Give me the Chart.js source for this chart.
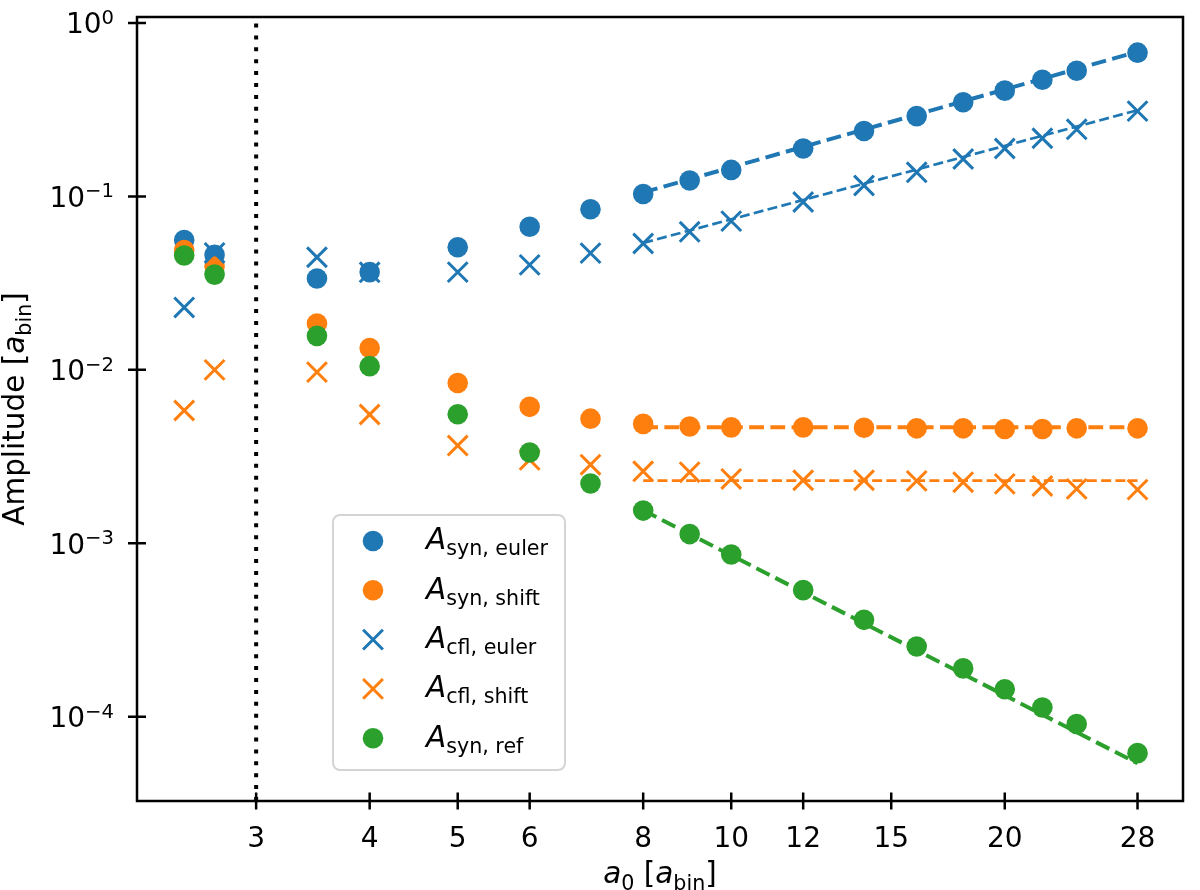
<!DOCTYPE html>
<html>
<head>
<meta charset="utf-8">
<script src="https://cdn.jsdelivr.net/npm/chart.js@4.4.1/dist/chart.umd.min.js"></script>
<style>
html,body{margin:0;padding:0;background:#fff;}
#wrap{position:relative;width:1200px;height:890px;}
</style>
</head>
<body>
<div id="wrap"><canvas id="c"></canvas></div>
<script>
// ---- data ----
const a0 = [2.5, 2.7, 3.5, 4, 5, 6, 7, 8, 9, 10, 12, 14, 16, 18, 20, 22, 24, 28];
const synEuler = [0.0561, 0.0460, 0.0336, 0.0366, 0.0509, 0.0668, 0.0843, 0.1033, 0.1234, 0.1421, 0.1888, 0.2383, 0.2903, 0.3490, 0.4071, 0.4707, 0.5297, 0.6739];
const synShift = [0.0491, 0.0394, 0.0185, 0.01335, 0.00839, 0.00612, 0.00523, 0.00488, 0.00471, 0.00466, 0.00466, 0.00464, 0.00460, 0.00460, 0.00456, 0.00456, 0.00460, 0.00460];
const cflEuler = [0.0229, 0.0472, 0.0446, 0.0365, 0.0366, 0.0403, 0.0471, 0.0535, 0.0625, 0.0720, 0.0928, 0.1156, 0.1377, 0.1643, 0.1888, 0.2164, 0.2436, 0.3100];
const cflShift = [0.00583, 0.0100, 0.0097, 0.00553, 0.00366, 0.00303, 0.00284, 0.00260, 0.00257, 0.00235, 0.00231, 0.00231, 0.00229, 0.00225, 0.00220, 0.00214, 0.00206, 0.00204];
const synRef = [0.0456, 0.0354, 0.0157, 0.0105, 0.00555, 0.00334, 0.00221, 0.001544, 0.00113, 0.000862, 0.000537, 0.000362, 0.000254, 0.000190, 0.000144, 0.000113, 0.0000908, 0.0000617];
// power-law fits (endpoints)
const fitA0 = [8, 28];
const fitSynEuler = [0.1054, 0.683];
const fitCflEuler = [0.0539, 0.314];
const fitSynShift = [0.00466, 0.00466];
const fitCflShift = [0.00230, 0.00230];
const fitSynRef = [0.00155, 0.0000539];
// axes
const xTicks = [3, 4, 5, 6, 8, 10, 12, 15, 20, 28];
const yTicks = [1e-4, 1e-3, 1e-2, 1e-1, 1];
const xRange = [2.2182, 31.42];
const yRange = [3.268e-5, 1.082];
const markerA0 = 3;
const legendSubs = ['syn, euler', 'syn, shift', 'cfl, euler', 'cfl, shift', 'syn, ref'];

const BLUE = '#1f77b4', ORANGE = '#ff7f0e', GREEN = '#2ca02c';
const FONT = '"DejaVu Sans", "Liberation Sans", sans-serif';

const pts = ys => a0.map((x, i) => ({x, y: ys[i]}));
const fitPts = ys => fitA0.map((x, i) => ({x, y: ys[i]}));

function circleDS(label, ys, color, order) {
  return {label, data: pts(ys), pointStyle: 'circle', pointRadius: 10.3, pointHoverRadius: 10.3,
    backgroundColor: color, borderColor: color, borderWidth: 0, showLine: false, order};
}
function crossDS(label, ys, color, order) {
  return {label, data: pts(ys), pointStyle: 'crossRot', pointRadius: 14, pointHoverRadius: 14,
    backgroundColor: color, borderColor: color, borderWidth: 3, showLine: false, order};
}
function fitDS(ys, color, width, order) {
  return {label: 'fit', data: fitPts(ys), showLine: true, pointRadius: 0, borderColor: color,
    borderWidth: width, borderDash: [3.7 * width, 1.6 * width], fill: false, order, clip: false};
}

function expText(v) {
  const e = Math.round(Math.log10(v));
  return String(e).replace('-', '\u2212');
}

function drawParts(ctx, parts, x, y) {
  let cx = x;
  parts.forEach(p => {
    ctx.font = p.f;
    ctx.fillText(p.t, cx, y + (p.dy || 0));
    cx += ctx.measureText(p.t).width;
  });
}
function partsWidth(ctx, parts) {
  let w = 0;
  parts.forEach(p => { ctx.font = p.f; w += ctx.measureText(p.t).width; });
  return w;
}

const TICK = 28, LBL = 29.5, SUB = LBL * 0.7, LEG = 29.5;
const decor = {
  id: 'decor',
  afterDraw(chart) {
    const {ctx, chartArea: a, scales: {x, y}} = chart;
    ctx.save();
    ctx.strokeStyle = '#000';
    ctx.lineWidth = 2.5;
    ctx.strokeRect(a.left, a.top, a.right - a.left, a.bottom - a.top);
    ctx.beginPath();
    x.ticks.forEach(t => {
      const px = x.getPixelForValue(t.value);
      ctx.moveTo(px, a.bottom - 8.5); ctx.lineTo(px, a.bottom + 8.5);
    });
    y.ticks.forEach(t => {
      const py = y.getPixelForValue(t.value);
      ctx.moveTo(a.left - 9, py); ctx.lineTo(a.left + 9, py);
    });
    ctx.stroke();

    ctx.fillStyle = '#000';
    ctx.textBaseline = 'alphabetic';
    ctx.textAlign = 'left';
    // y tick labels: 10 with superscript exponent
    y.ticks.forEach(t => {
      const py = y.getPixelForValue(t.value);
      const parts = [
        {t: '10', f: `${TICK}px ${FONT}`},
        {t: expText(t.value), f: `${TICK * 0.7}px ${FONT}`, dy: -9.5}
      ];
      const w = partsWidth(ctx, parts);
      drawParts(ctx, parts, a.left - 23 - w, py + 10.5);
    });
    // x title
    const xp = [
      {t: 'a', f: `italic ${LBL}px ${FONT}`},
      {t: '0', f: `${SUB}px ${FONT}`, dy: 6.5},
      {t: ' [', f: `${LBL}px ${FONT}`},
      {t: 'a', f: `italic ${LBL}px ${FONT}`},
      {t: 'bin', f: `${SUB}px ${FONT}`, dy: 6.5},
      {t: ']', f: `${LBL}px ${FONT}`}
    ];
    const xw = partsWidth(ctx, xp);
    drawParts(ctx, xp, (a.left + a.right) / 2 - xw / 2, 883);
    // y title
    const yp = [
      {t: 'Amplitude [', f: `${LBL}px ${FONT}`},
      {t: 'a', f: `italic ${LBL}px ${FONT}`},
      {t: 'bin', f: `${SUB}px ${FONT}`, dy: 6.5},
      {t: ']', f: `${LBL}px ${FONT}`}
    ];
    const yw = partsWidth(ctx, yp);
    ctx.save();
    ctx.translate(24, (a.top + a.bottom) / 2);
    ctx.rotate(-Math.PI / 2);
    drawParts(ctx, yp, -yw / 2, 0);
    ctx.restore();

    // legend
    const bx = a.left + 196, by = a.bottom - 286, bw = 232, bh = 255;
    ctx.beginPath();
    ctx.roundRect(bx, by, bw, bh, 7);
    ctx.fillStyle = 'rgba(255,255,255,0.8)';
    ctx.fill();
    ctx.strokeStyle = '#d4d4d4';
    ctx.lineWidth = 2;
    ctx.stroke();
    const legendDS = [chart.data.datasets[1], chart.data.datasets[2], chart.data.datasets[3], chart.data.datasets[4], chart.data.datasets[5]];
    legendDS.forEach((ds, i) => {
      const ry = by + 26 + i * 49.3;
      const mx = bx + 40;
      const col = ds.borderColor;
      if (ds.pointStyle === 'circle') {
        ctx.beginPath();
        ctx.arc(mx, ry, 10.3, 0, Math.PI * 2);
        ctx.fillStyle = col;
        ctx.fill();
      } else {
        ctx.beginPath();
        ctx.strokeStyle = col;
        ctx.lineWidth = 3;
        ctx.moveTo(mx - 9.9, ry - 9.9); ctx.lineTo(mx + 9.9, ry + 9.9);
        ctx.moveTo(mx + 9.9, ry - 9.9); ctx.lineTo(mx - 9.9, ry + 9.9);
        ctx.stroke();
      }
      ctx.fillStyle = '#000';
      drawParts(ctx, [
        {t: 'A', f: `italic ${LEG}px ${FONT}`},
        {t: legendSubs[i], f: `${LEG * 0.7}px ${FONT}`, dy: 6}
      ], bx + 93, ry + 8.3);
    });
    ctx.restore();
  }
};

const datasets = [
  {label: 'vline', data: [{x: markerA0, y: yRange[0]}, {x: markerA0, y: yRange[1]}], showLine: true,
   pointRadius: 0, borderColor: '#000', borderWidth: 4, borderDash: [4, 7.9], borderCapStyle: 'butt', order: 100},
  circleDS('A syn, euler', synEuler, BLUE, 50),
  circleDS('A syn, shift', synShift, ORANGE, 40),
  crossDS('A cfl, euler', cflEuler, BLUE, 30),
  crossDS('A cfl, shift', cflShift, ORANGE, 20),
  circleDS('A syn, ref', synRef, GREEN, 10),
  fitDS(fitSynEuler, BLUE, 4, 5),
  fitDS(fitCflEuler, BLUE, 2.7, 5),
  fitDS(fitSynShift, ORANGE, 4, 5),
  fitDS(fitCflShift, ORANGE, 2.7, 5),
  fitDS(fitSynRef, GREEN, 4, 5)
];

function zeroPad(s) { s.paddingTop = 0; s.paddingBottom = 0; s.paddingLeft = 0; s.paddingRight = 0; }

new Chart(document.getElementById('c'), {
  type: 'scatter',
  data: {datasets},
  options: {
    responsive: true,
    maintainAspectRatio: false,
    animation: false,
    events: [],
    layout: {padding: {top: 10, right: 4, left: 0, bottom: 0}},
    plugins: {legend: {display: false}, tooltip: {enabled: false}},
    scales: {
      x: {
        type: 'logarithmic', min: xRange[0], max: xRange[1],
        afterBuildTicks: s => { s.ticks = xTicks.map(v => ({value: v})); },
        afterFit: s => { s.height = 89; zeroPad(s); },
        grid: {display: false}, border: {display: false},
        ticks: {autoSkip: false, maxRotation: 0, color: '#000', padding: 14,
          font: {family: FONT, size: TICK}, callback: v => String(v)}
      },
      y: {
        type: 'logarithmic', min: yRange[0], max: yRange[1],
        afterBuildTicks: s => { s.ticks = yTicks.map(v => ({value: v})); },
        afterFit: s => { s.width = 137; zeroPad(s); },
        grid: {display: false}, border: {display: false},
        ticks: {display: false}
      }
    }
  },
  plugins: [decor]
});
</script>
</body>
</html>
